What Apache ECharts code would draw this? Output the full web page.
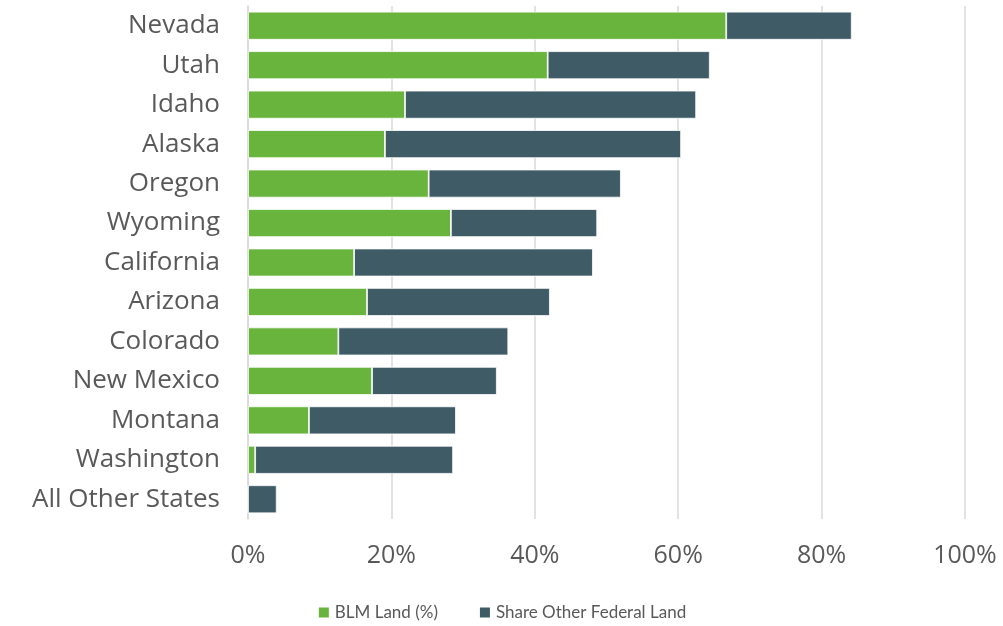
<!DOCTYPE html>
<html><head><meta charset="utf-8">
<script src="https://cdn.jsdelivr.net/npm/echarts@6/dist/echarts.min.js"></script>
<style>html,body{margin:0;padding:0;background:#fff}#c{width:1003px;height:626px}</style>
</head><body><div id="c"></div>
<script>
const categories = ["Nevada","Utah","Idaho","Alaska","Oregon","Wyoming","California","Arizona","Colorado","New Mexico","Montana","Washington","All Other States"];
const blmLand = [66.7,41.8,21.9,19.1,25.2,28.3,14.8,16.6,12.6,17.3,8.5,1.0,0];
const otherFederal = [17.5,22.6,40.6,41.3,26.8,20.4,33.3,25.5,23.7,17.4,20.5,27.6,4.0];
const xTicks = [0,20,40,60,80,100];

const chart = echarts.init(document.getElementById('c'), null, {renderer:'canvas'});
chart.setOption({
  animation:false,
  grid:{left:248,right:38,top:6,bottom:107,containLabel:false},
  legend:{
    bottom:0,left:'center',itemWidth:12,itemHeight:12,itemGap:40,
    icon:'rect',
    textStyle:{fontFamily:'Lato',fontSize:17,color:'#595959'},
    data:['BLM Land (%)','Share Other Federal Land']
  },
  xAxis:{
    type:'value',min:xTicks[0],max:xTicks[xTicks.length-1],interval:20,
    axisLabel:{formatter:'{value}%',fontFamily:'Open Sans',fontSize:25,color:'#595959',margin:24},
    splitLine:{lineStyle:{color:'#d9d9d9',width:1.5}},
    axisLine:{show:false},axisTick:{show:false}
  },
  yAxis:{
    type:'category',data:categories,inverse:true,
    axisLabel:{fontFamily:'Open Sans',fontSize:26,color:'#595959',margin:28,padding:[6,0,0,0]},
    axisLine:{show:true,lineStyle:{color:'#d9d9d9',width:1.5}},
    axisTick:{show:false}
  },
  series:[
    {name:'BLM Land (%)',type:'bar',stack:'t',data:blmLand,barCategoryGap:'29%',
     itemStyle:{color:'#69B43C',borderColor:'#ffffff',borderWidth:0.8}},
    {name:'Share Other Federal Land',type:'bar',stack:'t',data:otherFederal,
     itemStyle:{color:'#3E5B66',borderColor:'#ffffff',borderWidth:0.8}}
  ]
});
</script></body></html>
